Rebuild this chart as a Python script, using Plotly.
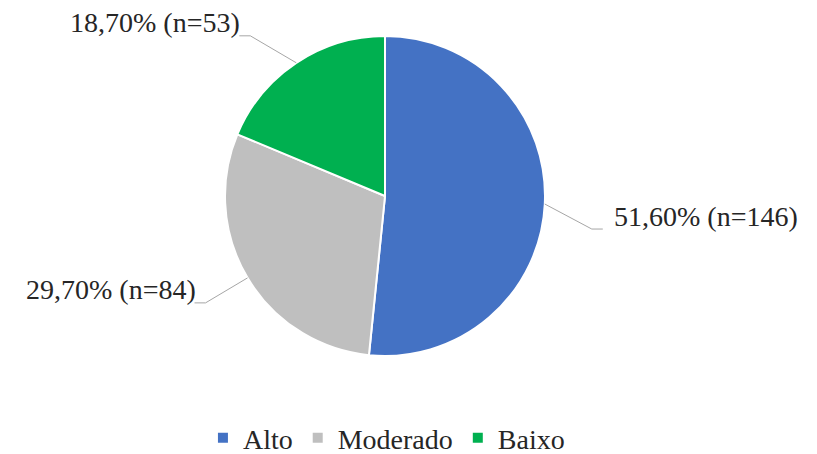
import math
import plotly.graph_objects as go

# dados do gráfico
categorias = ['Alto', 'Moderado', 'Baixo']
percentuais = [51.6, 29.7, 18.7]
contagens = [146, 84, 53]
cores = ['#4472C4', '#BFBFBF', '#00B050']

# posição dos rótulos (deslocamento do cotovelo em px)
desloc_rotulo = [(47, 25), (-42, 25), (-46, -27)]

W, H = 817, 454
cx, cy, r = 385, 196, 160   # centro e raio da pizza em px
FONTE = '"Liberation Serif", "Times New Roman", "DejaVu Serif", serif'


def px(x, y):
    return x / W, 1 - y / H


fig = go.Figure(go.Pie(
    labels=categorias,
    values=percentuais,
    marker=dict(colors=cores, line=dict(color='white', width=2)),
    sort=False,
    direction='clockwise',
    rotation=0,
    textinfo='none',
    hoverinfo='label+percent',
    domain=dict(x=[(cx - r) / W, (cx + r) / W], y=[1 - (cy + r) / H, 1 - (cy - r) / H]),
))

# rótulos com linhas de chamada
total = sum(percentuais)
acum = 0
shapes = []
annotations = []
for cat, p, n, (dx, dy) in zip(categorias, percentuais, contagens, desloc_rotulo):
    meio = (acum + p / 2) / total * 2 * math.pi
    acum += p
    ex, ey = cx + r * math.sin(meio), cy - r * math.cos(meio)
    kx, ky = ex + dx, ey + dy
    lado = 1 if dx > 0 else -1
    hx = kx + lado * 11
    for (x0, y0, x1, y1) in [(ex, ey, kx, ky), (kx, ky, hx, ky)]:
        a0, b0 = px(x0, y0)
        a1, b1 = px(x1, y1)
        shapes.append(dict(type='line', xref='paper', yref='paper', x0=a0, y0=b0, x1=a1, y1=b1,
                           line=dict(color='#A6A6A6', width=1)))
    tx, ty = px(hx + (9 if lado > 0 else 3), ky - 13)
    texto = f"{p:.2f}".replace('.', ',') + f"% (n={n})"
    annotations.append(dict(text=texto, x=tx, y=ty, xref='paper', yref='paper', showarrow=False,
                            xanchor='left' if lado > 0 else 'right', yanchor='middle',
                            font=dict(family=FONTE, size=28, color='#262626')))

fig.update_layout(
    width=W, height=H,
    margin=dict(l=0, r=0, t=0, b=0, autoexpand=False),
    paper_bgcolor='white',
    font=dict(family=FONTE, size=28, color='#262626'),
    shapes=shapes,
    annotations=annotations,
    showlegend=True,
    legend=dict(orientation='h', x=0.473, xanchor='center', y=1 - 438 / H, yanchor='middle',
                font=dict(size=28), itemwidth=30, traceorder='normal'),
)

# tira a margem padrão do body para a figura ocupar a janela inteira
fig.write_html("out.html", config={'displayModeBar': False},
               post_script="document.body.style.margin='0';")
